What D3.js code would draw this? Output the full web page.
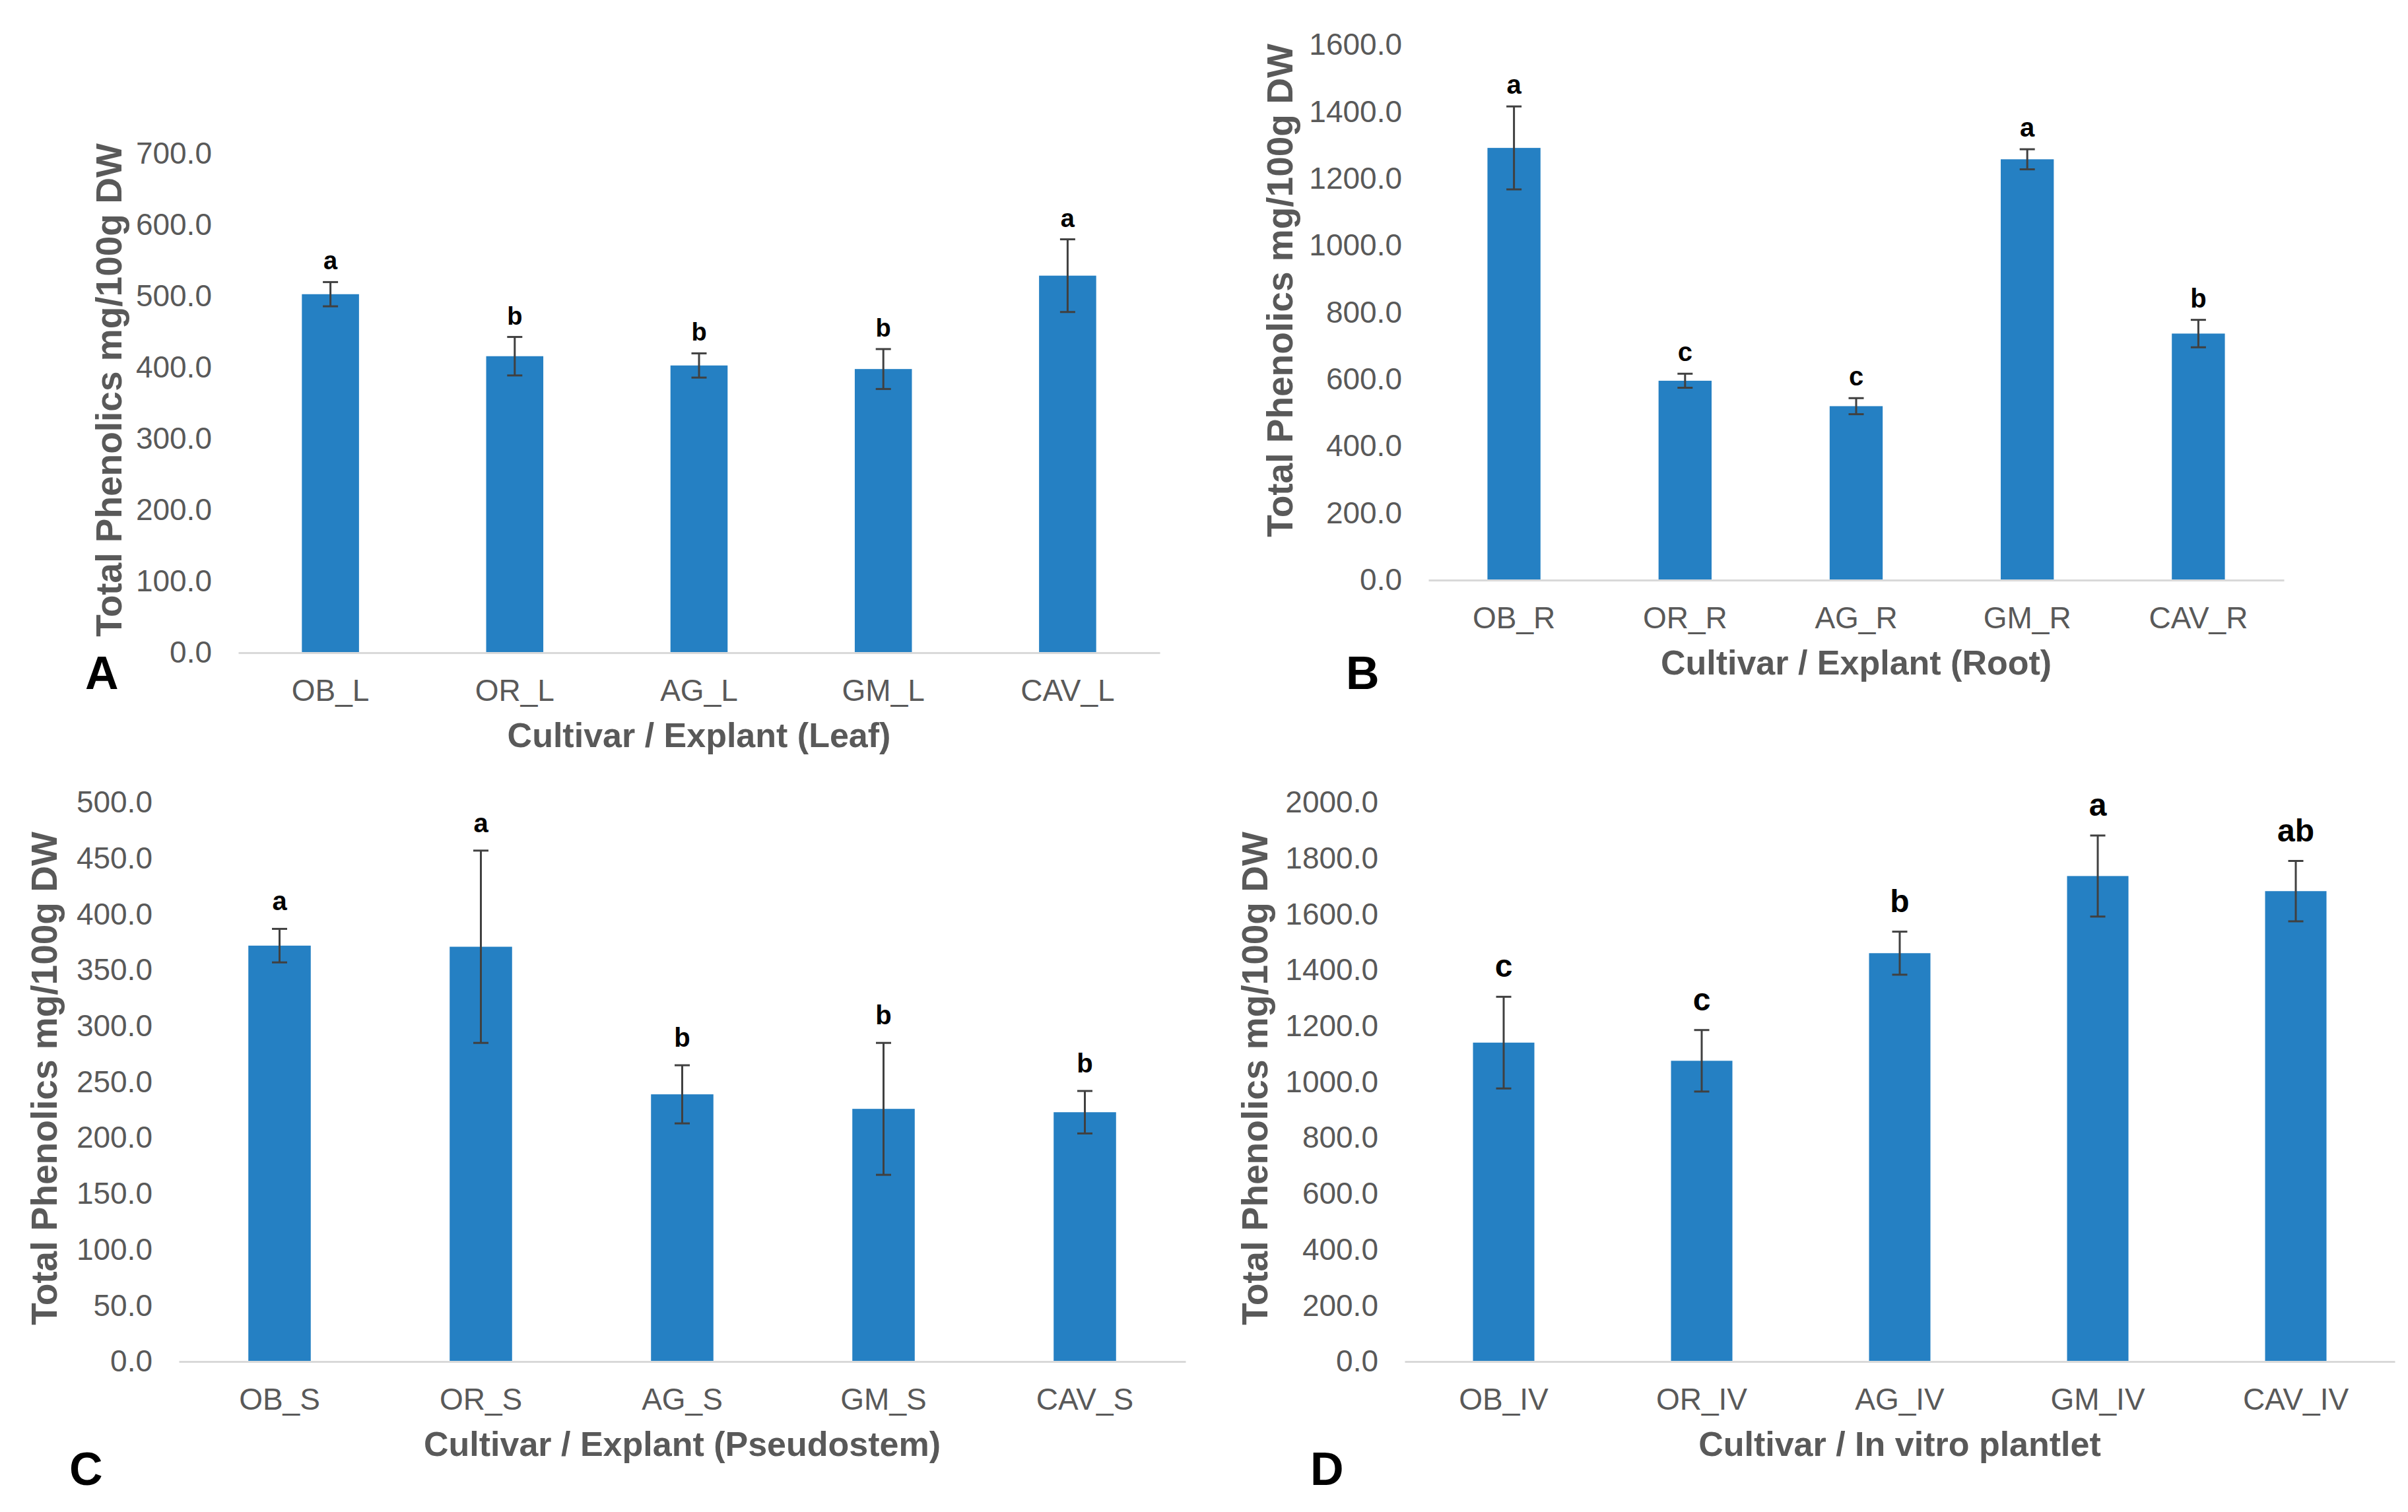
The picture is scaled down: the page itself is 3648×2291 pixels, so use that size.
<!DOCTYPE html>
<html>
<head>
<meta charset="utf-8">
<script src="https://cdn.jsdelivr.net/npm/d3@7"></script>
<style>
  html, body { margin: 0; padding: 0; background: #ffffff; }
  svg { display: block; }
  text { font-family: "Liberation Sans", Arial, Helvetica, sans-serif; }
</style>
</head>
<body>
<svg id="chart" width="3648" height="2291"></svg>
<script>
// ---- Data ----
const catsA = ["OB_L", "OR_L", "AG_L", "GM_L", "CAV_L"];
const valsA = [503, 416, 403, 398, 529];
const errA  = [17, 27, 17, 28, 51];
const sigA  = ["a", "b", "b", "b", "a"];

const catsB = ["OB_R", "OR_R", "AG_R", "GM_R", "CAV_R"];
const valsB = [1292, 596, 520, 1258, 737];
const errB  = [124, 21, 24, 30, 41];
const sigB  = ["a", "c", "c", "a", "b"];

const catsC = ["OB_S", "OR_S", "AG_S", "GM_S", "CAV_S"];
const valsC = [372, 371, 239, 226, 223];
const errC  = [15, 86, 26, 59, 19];
const sigC  = ["a", "a", "b", "b", "b"];

const catsD = ["OB_IV", "OR_IV", "AG_IV", "GM_IV", "CAV_IV"];
const valsD = [1141, 1076, 1461, 1737, 1683];
const errD  = [164, 110, 77, 145, 108];
const sigD  = ["c", "c", "b", "a", "ab"];

const yMaxA = 700,  yStepA = 100;
const yMaxB = 1600, yStepB = 200;
const yMaxC = 500,  yStepC = 50;
const yMaxD = 2000, yStepD = 200;

const yTitle = "Total Phenolics mg/100g DW";
const xTitleA = "Cultivar / Explant (Leaf)";
const xTitleB = "Cultivar / Explant (Root)";
const xTitleC = "Cultivar / Explant (Pseudostem)";
const xTitleD = "Cultivar / In vitro plantlet";

// ---- Layout / style ----
const BAR = "#2580c3";
const ERR = "#404040";
const AXIS = "#d9d9d9";
const TXT = "#595959";

const panels = [
  {cats: catsA, vals: valsA, err: errA, sig: sigA, yMax: yMaxA, yStep: yStepA, xTitle: xTitleA, letter: "A",
   x0: 361, x1: 1757, yTop: 233, yBase: 989, titleX: 164, titleY: 591, letterX: 129, letterY: 1044, sigSize: 38, sigOff: 19},
  {cats: catsB, vals: valsB, err: errB, sig: sigB, yMax: yMaxB, yStep: yStepB, xTitle: xTitleB, letter: "B",
   x0: 2164, x1: 3460, yTop: 68, yBase: 879, titleX: 1938, titleY: 440, letterX: 2039, letterY: 1044, sigSize: 40, sigOff: 19},
  {cats: catsC, vals: valsC, err: errC, sig: sigC, yMax: yMaxC, yStep: yStepC, xTitle: xTitleC, letter: "C",
   x0: 271, x1: 1796, yTop: 1216, yBase: 2063, titleX: 66, titleY: 1634, letterX: 105, letterY: 2250, sigSize: 40, sigOff: 28},
  {cats: catsD, vals: valsD, err: errD, sig: sigD, yMax: yMaxD, yStep: yStepD, xTitle: xTitleD, letter: "D",
   x0: 2128, x1: 3628, yTop: 1216, yBase: 2063, titleX: 1900, titleY: 1634, letterX: 1985, letterY: 2250, sigSize: 48, sigOff: 30}
];

const svg = d3.select("#chart");

panels.forEach(p => {
  const g = svg.append("g");
  const x = d3.scaleBand().domain(p.cats).range([p.x0, p.x1]).paddingInner(0.69).paddingOuter(0.345);
  const y = d3.scaleLinear().domain([0, p.yMax]).range([p.yBase, p.yTop]);
  const ticks = d3.range(0, p.yMax + p.yStep / 2, p.yStep);

  // Y axis (labels only)
  const ya = g.append("g").attr("transform", `translate(${p.x0},0)`)
    .call(d3.axisLeft(y).tickValues(ticks).tickFormat(d3.format(".1f")).tickSize(0).tickPadding(40));
  ya.select(".domain").remove();
  ya.selectAll("text").attr("font-size", 46).attr("fill", TXT)
    .attr("font-family", '"Liberation Sans", Arial, sans-serif');

  // Bars
  const data = p.cats.map((c, i) => ({c, v: p.vals[i], e: p.err[i], s: p.sig[i]}));
  g.selectAll("rect.bar").data(data).enter().append("rect")
    .attr("class", "bar")
    .attr("x", d => x(d.c))
    .attr("width", x.bandwidth())
    .attr("y", d => y(d.v))
    .attr("height", d => y(0) - y(d.v))
    .attr("fill", BAR);

  // X axis
  const xa = g.append("g").attr("transform", `translate(0,${p.yBase})`)
    .call(d3.axisBottom(x).tickSize(0));
  xa.select(".domain").attr("stroke", AXIS).attr("stroke-width", 3);
  xa.selectAll("text").attr("font-size", 46).attr("fill", TXT).attr("y", 73).attr("dy", 0)
    .attr("font-family", '"Liberation Sans", Arial, sans-serif');

  // Error bars
  const cx = d => x(d.c) + x.bandwidth() / 2;
  const capW = 23;
  const eb = g.selectAll("g.err").data(data).enter().append("g").attr("class", "err")
    .attr("stroke", ERR).attr("stroke-width", 3).attr("fill", "none");
  eb.append("line").attr("x1", cx).attr("x2", cx).attr("y1", d => y(d.v + d.e)).attr("y2", d => y(d.v - d.e));
  eb.append("line").attr("x1", d => cx(d) - capW / 2).attr("x2", d => cx(d) + capW / 2)
    .attr("y1", d => y(d.v + d.e)).attr("y2", d => y(d.v + d.e));
  eb.append("line").attr("x1", d => cx(d) - capW / 2).attr("x2", d => cx(d) + capW / 2)
    .attr("y1", d => y(d.v - d.e)).attr("y2", d => y(d.v - d.e));

  // Significance letters
  g.selectAll("text.sig").data(data).enter().append("text")
    .attr("class", "sig")
    .attr("x", cx)
    .attr("y", d => y(d.v + d.e) - p.sigOff)
    .attr("text-anchor", "middle")
    .attr("font-size", p.sigSize).attr("font-weight", "bold").attr("fill", "#000")
    .text(d => d.s);

  // Y title
  g.append("text")
    .attr("transform", `translate(${p.titleX},${p.titleY}) rotate(-90)`)
    .attr("text-anchor", "middle").attr("dy", "0.36em")
    .attr("font-size", 55).attr("font-weight", "bold").attr("fill", TXT)
    .text(yTitle);

  // X title
  g.append("text")
    .attr("x", (p.x0 + p.x1) / 2).attr("y", p.yBase + 143)
    .attr("text-anchor", "middle")
    .attr("font-size", 52).attr("font-weight", "bold").attr("fill", TXT)
    .text(p.xTitle);

  // Panel letter
  g.append("text")
    .attr("x", p.letterX).attr("y", p.letterY)
    .attr("font-size", 70).attr("font-weight", "bold").attr("fill", "#000")
    .text(p.letter);
});
</script>
</body>
</html>
